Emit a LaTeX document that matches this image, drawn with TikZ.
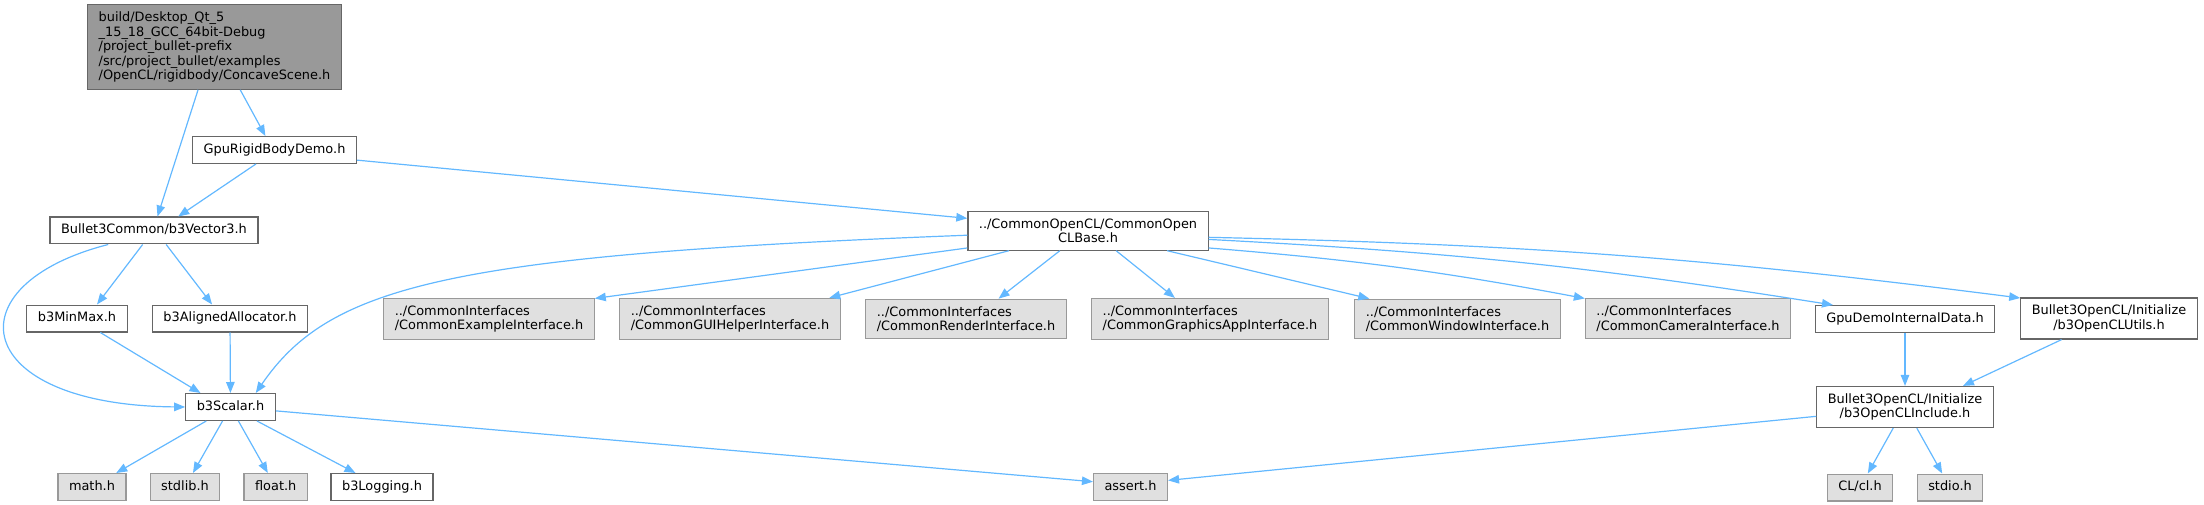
\documentclass[tikz,border=0pt]{standalone}
\usepackage{fontspec}
\setmainfont{DejaVu Sans}
\usepackage{xcolor}
\usepackage{tikz}
\usetikzlibrary{arrows.meta}
\definecolor{azulseta}{HTML}{63B8FF}
\tikzset{
  cabec/.style={draw=black!60, fill=white, line width=1.2pt, inner xsep=11pt, inner ysep=7pt, align=#1, font=\fontsize{12.9}{14.5}\selectfont},
  cabec/.default=center,
  sistema/.style={cabec=#1, draw=black!40, fill=black!12},
  sistema/.default=left,
  raiz/.style={cabec=left, fill=black!40},
  umalinha/.style={text height=9.6pt, text depth=3.2pt},
  seta/.style={-{Triangle[length=11pt,width=8.5pt]}, draw=azulseta, line width=1.2pt},
}
\begin{document}
\begin{tikzpicture}[x=1pt,y=1pt]
  \useasboundingbox (0,0) rectangle (2204,-505);
  % topo
  \node[raiz] (cena) at (214.5,-47) {build/Desktop\_Qt\_5\\\_15\_18\_GCC\_64bit-Debug\\/project\_bullet-prefix\\/src/project\_bullet/examples\\/OpenCL/rigidbody/ConcaveScene.h};
  \node[cabec, umalinha] (gpurb) at (274.5,-150) {GpuRigidBodyDemo.h};
  \node[cabec, umalinha] (vec) at (154,-230.5) {Bullet3Common/b3Vector3.h};
  \node[cabec] (base) at (1088,-231) {../CommonOpenCL/CommonOpen\\CLBase.h};
  % linha do meio
  \node[cabec, umalinha] (minmax) at (77,-318.5) {b3MinMax.h};
  \node[cabec, umalinha] (alloc) at (230,-318.5) {b3AlignedAllocator.h};
  \node[sistema] (exemplo) at (489,-319) {../CommonInterfaces\\/CommonExampleInterface.h};
  \node[sistema] (gui) at (730,-319) {../CommonInterfaces\\/CommonGUIHelperInterface.h};
  \node[sistema] (render) at (966,-319) {../CommonInterfaces\\/CommonRenderInterface.h};
  \node[sistema] (grafico) at (1210,-319) {../CommonInterfaces\\/CommonGraphicsAppInterface.h};
  \node[sistema] (janela) at (1457.5,-319) {../CommonInterfaces\\/CommonWindowInterface.h};
  \node[sistema] (camera) at (1688,-318.5) {../CommonInterfaces\\/CommonCameraInterface.h};
  \node[cabec, umalinha] (gpudados) at (1905,-319) {GpuDemoInternalData.h};
  \node[cabec] (utils) at (2109,-318.5) {Bullet3OpenCL/Initialize\\/b3OpenCLUtils.h};
  \node[cabec, umalinha] (escalar) at (230.5,-407) {b3Scalar.h};
  \node[cabec] (inclui) at (1905,-407) {Bullet3OpenCL/Initialize\\/b3OpenCLInclude.h};
  % base
  \node[sistema, umalinha] (math) at (92,-487) {math.h};
  \node[sistema, umalinha] (stdlib) at (185,-487) {stdlib.h};
  \node[sistema, umalinha] (float) at (275.7,-487) {float.h};
  \node[cabec, umalinha] (logging) at (382,-487) {b3Logging.h};
  \node[sistema, umalinha] (assert) at (1130.5,-487) {assert.h};
  \node[sistema, umalinha] (cl) at (1860,-487.5) {CL/cl.h};
  \node[sistema, umalinha] (stdio) at (1950,-487.5) {stdio.h};

  \draw[seta] (cena.249) -- (vec.76);
  \draw[seta] (cena.301) -- (gpurb.123);
  \draw[seta] (gpurb.217) -- (vec.30);
  \draw[seta] (gpurb.353) -- (base.174);
  \draw[seta] (vec.197) .. controls (-50,-285) and (-30,-405) .. (escalar.west);
  \draw[seta] (vec.231) -- (minmax.35);
  \draw[seta] (vec.311) -- (alloc.142);
  \draw[seta] (minmax.329) -- (escalar.155);
  \draw[seta] (alloc) -- (escalar);
  \draw[seta] (base.182) .. controls (450,-255) and (330,-285) .. (escalar.29);
  \draw[seta] (base.188) -- (exemplo.11);
  \draw[seta] (base.194) -- (gui.12);
  \draw[seta] (base.215) -- (render.32);
  \draw[seta] (base.325) -- (grafico.149);
  \draw[seta] (base.346) -- (janela.167);
  \draw[seta] (base.352) to[bend left=3] (camera.169);
  \draw[seta] (base.356) to[bend left=3] (gpudados.169);
  \draw[seta] (base.357) to[bend left=3] (utils.167);
  \draw[seta] (gpudados) -- (inclui);
  \draw[seta] (utils.204) -- (inclui.20);
  \draw[seta] (escalar) -- (math);
  \draw[seta] (escalar) -- (stdlib);
  \draw[seta] (escalar) -- (float);
  \draw[seta] (escalar) -- (logging);
  \draw[seta] (escalar) -- (assert.172);
  \draw[seta] (inclui.186) -- (assert.10);
  \draw[seta] (inclui) -- (cl);
  \draw[seta] (inclui) -- (stdio);
\end{tikzpicture}
\end{document}
